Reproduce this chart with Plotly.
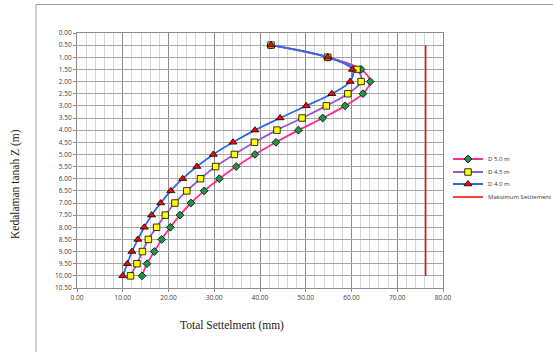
import plotly.graph_objects as go

depth = [0.5, 1.0, 1.5, 2.0, 2.5, 3.0, 3.5, 4.0, 4.5, 5.0,
         5.5, 6.0, 6.5, 7.0, 7.5, 8.0, 8.5, 9.0, 9.5, 10.0]
d50 = [42.4, 54.8, 62.1, 64.1, 62.5, 58.6, 53.7, 48.4, 43.5, 38.9,
       34.8, 31.1, 27.8, 24.9, 22.5, 20.4, 18.5, 16.9, 15.3, 14.2]
d45 = [42.4, 54.8, 61.2, 62.1, 59.2, 54.5, 49.2, 43.7, 38.8, 34.4,
       30.3, 27.0, 24.0, 21.4, 19.3, 17.4, 15.6, 14.3, 13.1, 11.7]
d40 = [42.4, 54.8, 60.2, 59.7, 55.7, 50.1, 44.4, 38.9, 34.1, 29.8,
       26.2, 23.1, 20.5, 18.3, 16.3, 14.7, 13.3, 12.0, 11.0, 10.0]
maks_x = [76.2, 76.2]
maks_depth = [0.5, 10.0]

W, H = 553, 352
# plot area in page pixels (as in the reference)
L, R, T, B = 77, 443, 33, 288
PW, PH = R - L, B - T

def px(x):
    return (x - L) / PW

def py(y):
    return (B - y) / PH

fig = go.Figure()
fig.add_trace(go.Scatter(
    x=d50, y=depth, name="D 5.0 m", mode="lines+markers", legend="legend",
    line=dict(color="#FF2D8A", width=1.8, shape="spline", smoothing=1),
    marker=dict(symbol="diamond", size=6, color="#1E9648",
                line=dict(color="black", width=0.8))))
fig.add_trace(go.Scatter(
    x=d45, y=depth, name="D 4.5 m", mode="lines+markers", legend="legend2",
    line=dict(color="#9B55D0", width=1.8, shape="spline", smoothing=1),
    marker=dict(symbol="square", size=6.5, color="#FFFF00",
                line=dict(color="black", width=0.8))))
fig.add_trace(go.Scatter(
    x=d40, y=depth, name="D 4.0 m", mode="lines+markers", legend="legend3",
    line=dict(color="#2E6BE0", width=1.8, shape="spline", smoothing=1),
    marker=dict(symbol="triangle-up", size=7, color="#FF0000",
                line=dict(color="black", width=0.8))))
fig.add_trace(go.Scatter(
    x=maks_x, y=maks_depth, name="Maksimum Settlement", mode="lines", legend="legend4",
    line=dict(color="#FF0000", width=1.5)))

tickfont = dict(family="Open Sans, Liberation Sans, sans-serif", size=6.5, color="#404040")
legfont = dict(family="Open Sans, Liberation Sans, sans-serif", size=6, color="#333")

def leg(ypix):
    return dict(x=px(448), y=py(ypix), xanchor="left", yanchor="middle",
                font=legfont, itemwidth=30, bgcolor="rgba(0,0,0,0)",
                borderwidth=0)

fig.update_layout(
    width=W, height=H,
    margin=dict(l=L, r=W - R, t=T, b=H - B, autoexpand=False),
    paper_bgcolor="white", plot_bgcolor="white",
    showlegend=True,
    legend=leg(159), legend2=leg(172), legend3=leg(184), legend4=leg(197),
    xaxis=dict(range=[0, 80], dtick=10, tickformat=".2f", tickfont=tickfont,
               showgrid=True, gridcolor="#8C8C8C", gridwidth=1,
               minor=dict(dtick=2, showgrid=True, gridcolor="#D4D4D4", gridwidth=1),
               showline=True, linecolor="#8C8C8C", linewidth=1, mirror=True,
               ticks="outside", ticklen=3, tickcolor="#8C8C8C",
               zeroline=False, automargin=False),
    yaxis=dict(range=[10.5, 0], dtick=0.5, tickformat=".2f", tickfont=tickfont,
               showgrid=True, gridcolor="#A6A6A6", gridwidth=1,
               showline=True, linecolor="#8C8C8C", linewidth=1, mirror=True,
               ticks="outside", ticklen=3, tickcolor="#8C8C8C",
               zeroline=False, automargin=False),
    shapes=[dict(type="rect", xref="paper", yref="paper",
                 x0=px(36), x1=px(700), y0=py(500), y1=py(4.5),
                 line=dict(color="#A0A0A0", width=1), fillcolor="rgba(0,0,0,0)",
                 layer="below")],
    annotations=[
        dict(text="Kedalaman tanah Z (m)", xref="paper", yref="paper",
             x=px(15), y=py(184), textangle=-90,
             showarrow=False, xanchor="center", yanchor="middle",
             font=dict(family="Liberation Serif, serif", size=11.5, color="#222")),
        dict(text="Total Settelment (mm)", xref="paper", yref="paper",
             x=px(232), y=py(325),
             showarrow=False, xanchor="center", yanchor="middle",
             font=dict(family="Liberation Serif, serif", size=11.5, color="#222")),
    ],
)

fig.write_html("out.html",
               config={"displayModeBar": False},
               post_script="document.body.style.margin='0';document.body.style.overflow='hidden';")
